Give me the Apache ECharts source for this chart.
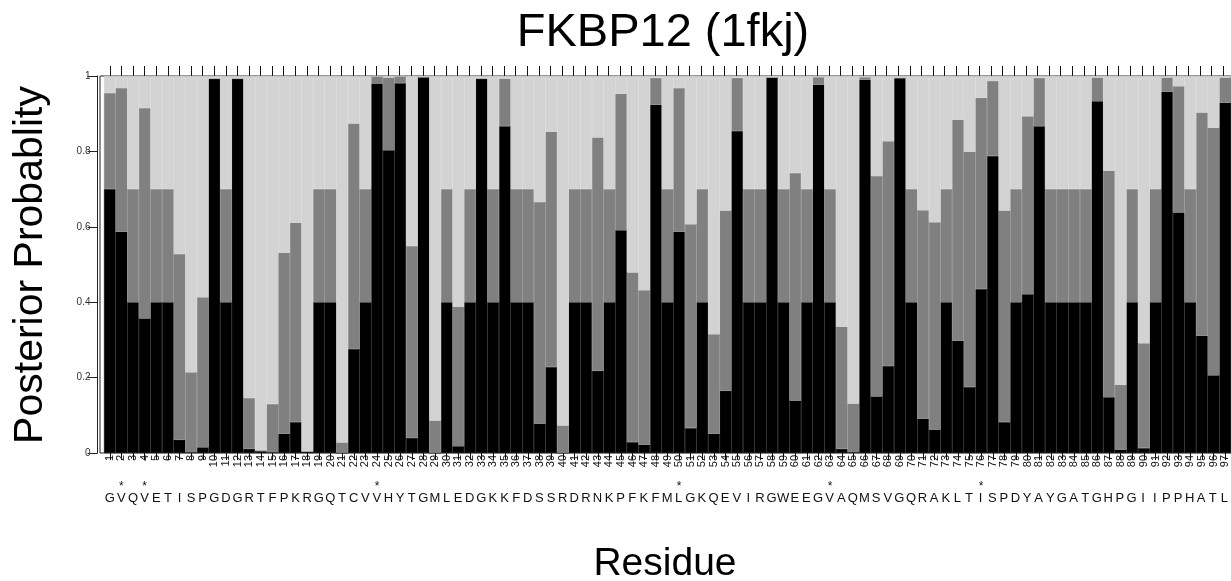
<!DOCTYPE html>
<html>
<head>
<meta charset="utf-8">
<script src="https://cdn.jsdelivr.net/npm/echarts@6/dist/echarts.min.js"></script>
<style>
html,body{margin:0;padding:0;background:#fff;}
#chart{width:1231px;height:581px;}
</style>
</head>
<body>
<div id="chart"></div>
<script>
// ---- data ----
const sequence = 'GVQVETISPGDGRTFPKRGQTCVVHYTGMLEDGKKFDSSRDRNKPFKFMLGKQEVIRGWEEGVAQMSVGQRAKLTISPDYAYGATGHPGIIPPHATL'.split('');
const starredResidues = [2, 4, 24, 50, 63, 76];
const pBlack = [
  0.700,0.587,0.400,0.357,0.400,0.400,0.035,0.002,0.015,0.993,
  0.400,0.993,0.011,0.005,0.002,0.051,0.082,0.004,0.400,0.400,
  0.000,0.276,0.400,0.980,0.803,0.981,0.040,0.997,0.000,0.400,
  0.018,0.400,0.993,0.400,0.867,0.400,0.400,0.078,0.228,0.000,
  0.400,0.400,0.218,0.400,0.591,0.029,0.022,0.924,0.400,0.587,
  0.066,0.400,0.051,0.165,0.854,0.400,0.400,0.996,0.400,0.139,
  0.400,0.977,0.400,0.011,0.002,0.990,0.150,0.231,0.995,0.400,
  0.091,0.062,0.400,0.298,0.175,0.435,0.788,0.082,0.400,0.421,
  0.867,0.400,0.400,0.400,0.400,0.933,0.148,0.009,0.400,0.013,
  0.400,0.958,0.638,0.400,0.311,0.206,0.929
];
const pGray = [
  0.255,0.381,0.300,0.558,0.300,0.300,0.493,0.212,0.398,0.000,
  0.300,0.000,0.135,0.002,0.128,0.480,0.529,0.000,0.300,0.300,
  0.028,0.598,0.300,0.019,0.193,0.018,0.509,0.000,0.086,0.300,
  0.370,0.300,0.000,0.300,0.126,0.300,0.300,0.588,0.624,0.073,
  0.300,0.300,0.619,0.300,0.362,0.450,0.410,0.071,0.300,0.381,
  0.541,0.300,0.264,0.478,0.141,0.300,0.300,0.000,0.300,0.604,
  0.300,0.020,0.300,0.324,0.129,0.007,0.585,0.596,0.000,0.300,
  0.553,0.550,0.300,0.586,0.624,0.507,0.199,0.561,0.300,0.472,
  0.128,0.300,0.300,0.300,0.300,0.063,0.601,0.172,0.300,0.278,
  0.300,0.038,0.335,0.300,0.592,0.657,0.067
];
const pLight = [
  0.045,0.032,0.300,0.085,0.300,0.300,0.472,0.786,0.587,0.007,
  0.300,0.007,0.854,0.993,0.870,0.469,0.389,0.996,0.300,0.300,
  0.972,0.126,0.300,0.001,0.004,0.001,0.451,0.003,0.914,0.300,
  0.612,0.300,0.007,0.300,0.007,0.300,0.300,0.334,0.148,0.927,
  0.300,0.300,0.163,0.300,0.047,0.521,0.568,0.005,0.300,0.032,
  0.393,0.300,0.685,0.357,0.005,0.300,0.300,0.004,0.300,0.257,
  0.300,0.003,0.300,0.665,0.869,0.003,0.265,0.173,0.005,0.300,
  0.356,0.388,0.300,0.116,0.201,0.058,0.013,0.357,0.300,0.107,
  0.005,0.300,0.300,0.300,0.300,0.004,0.251,0.819,0.300,0.709,
  0.300,0.004,0.027,0.300,0.097,0.137,0.004
];
const yTicks = [0, 0.2, 0.4, 0.6, 0.8, 1];
const titleText = 'FKBP12 (1fkj)';
const xName = 'Residue';
const yName = 'Posterior Probablity';

// ---- derived labels ----
const residueNumbers = sequence.map((_, i) => String(i + 1));
const starLabels = residueNumbers.map(n => starredResidues.indexOf(Number(n)) >= 0 ? '*' : '');

const FONT = '"Liberation Sans", Arial, Helvetica, sans-serif';
const chart = echarts.init(document.getElementById('chart'), null, {renderer: 'canvas'});

const G = {left: 104, top: 76, bottom: 128, right: -7};
const cat = (grid, data, extra) => Object.assign({
  type: 'category', gridIndex: grid, data: data, position: 'bottom',
  axisLine: {show: false, onZero: false}, axisTick: {show: false}, splitLine: {show: false}
}, extra);
const hiddenVal = (grid) => ({type: 'value', gridIndex: grid, min: 0, max: 1, show: false});

const option = {
  animation: false,
  backgroundColor: '#fff',
  grid: [
    Object.assign({}, G),
    {left: 100, top: 76, bottom: 128, right: -40, show: true, borderColor: '#222', borderWidth: 1, backgroundColor: 'transparent'},
    Object.assign({}, G),
    Object.assign({}, G),
    {left: G.left, right: G.right, top: 66, bottom: 505}
  ],
  xAxis: [
    cat(0, residueNumbers, {
      axisTick: {show: true, alignWithLabel: true, length: 7, lineStyle: {color: '#111', width: 1}},
      axisLabel: {rotate: 90, interval: 0, fontSize: 11, margin: 2, fontFamily: FONT, color: '#111'}
    }),
    hiddenVal(1),
    cat(2, starLabels, {
      offset: 28,
      axisLabel: {interval: 0, fontSize: 12, margin: 0, fontFamily: FONT, color: '#111'}
    }),
    cat(3, sequence, {
      offset: 39,
      axisLabel: {interval: 0, fontSize: 13, margin: 0, fontFamily: FONT, color: '#111'}
    }),
    cat(4, residueNumbers, {
      axisTick: {show: true, inside: true, alignWithLabel: true, length: 10, lineStyle: {color: '#111', width: 1}},
      axisLabel: {show: true, interval: 0, fontSize: 9, margin: 4, color: 'rgba(255,255,255,0)'}
    })
  ],
  yAxis: [
    hiddenVal(0),
    {
      type: 'value', gridIndex: 1, min: 0, max: 1, interval: 0.2, offset: 2.5,
      axisLine: {show: true, onZero: false, lineStyle: {color: '#222', width: 1}},
      axisTick: {show: true, length: 10, lineStyle: {color: '#222', width: 1}},
      splitLine: {show: false},
      axisLabel: {fontSize: 10, margin: 7, color: '#333', fontFamily: FONT,
        formatter: v => { const t = yTicks.find(x => Math.abs(x - v) < 1e-9); return t === undefined ? '' : String(t); }}
    },
    hiddenVal(2),
    hiddenVal(3),
    hiddenVal(4)
  ],
  series: [
    {name: 'p1', type: 'bar', xAxisIndex: 0, yAxisIndex: 0, stack: 'p', data: pBlack, barCategoryGap: '0%',
      itemStyle: {color: '#000000', borderColor: '#000000', borderWidth: 0.5}},
    {name: 'p2', type: 'bar', xAxisIndex: 0, yAxisIndex: 0, stack: 'p', data: pGray, barCategoryGap: '0%',
      itemStyle: {color: '#808080', borderColor: '#808080', borderWidth: 0.5}},
    {name: 'p3', type: 'bar', xAxisIndex: 0, yAxisIndex: 0, stack: 'p', data: pLight, barCategoryGap: '0%',
      itemStyle: {color: '#d3d3d3', borderColor: '#d3d3d3', borderWidth: 0.5}},
    // invisible series that only binds the top tick axis (grid 4) so its ticks are laid out
    {name: 'topTicks', type: 'line', xAxisIndex: 4, yAxisIndex: 4, data: pBlack, silent: true,
      showSymbol: false, symbol: 'none', lineStyle: {opacity: 0, width: 0}, tooltip: {show: false}}
  ],
  graphic: [
    {type: 'text', x: 663, y: 33, style: {text: titleText, fontSize: 47, fontFamily: FONT, fill: '#000', align: 'center', verticalAlign: 'middle', textAlign: 'center', textVerticalAlign: 'middle'}},
    {type: 'text', x: 665, y: 564, style: {text: xName, fontSize: 39, fontFamily: FONT, fill: '#000', align: 'center', verticalAlign: 'middle', textAlign: 'center', textVerticalAlign: 'middle'}},
    {type: 'text', x: 31, y: 265, rotation: Math.PI / 2, style: {text: yName, fontSize: 41, fontFamily: FONT, fill: '#000', align: 'center', verticalAlign: 'middle', textAlign: 'center', textVerticalAlign: 'middle'}}
  ]
};
chart.setOption(option);
</script>
</body>
</html>
